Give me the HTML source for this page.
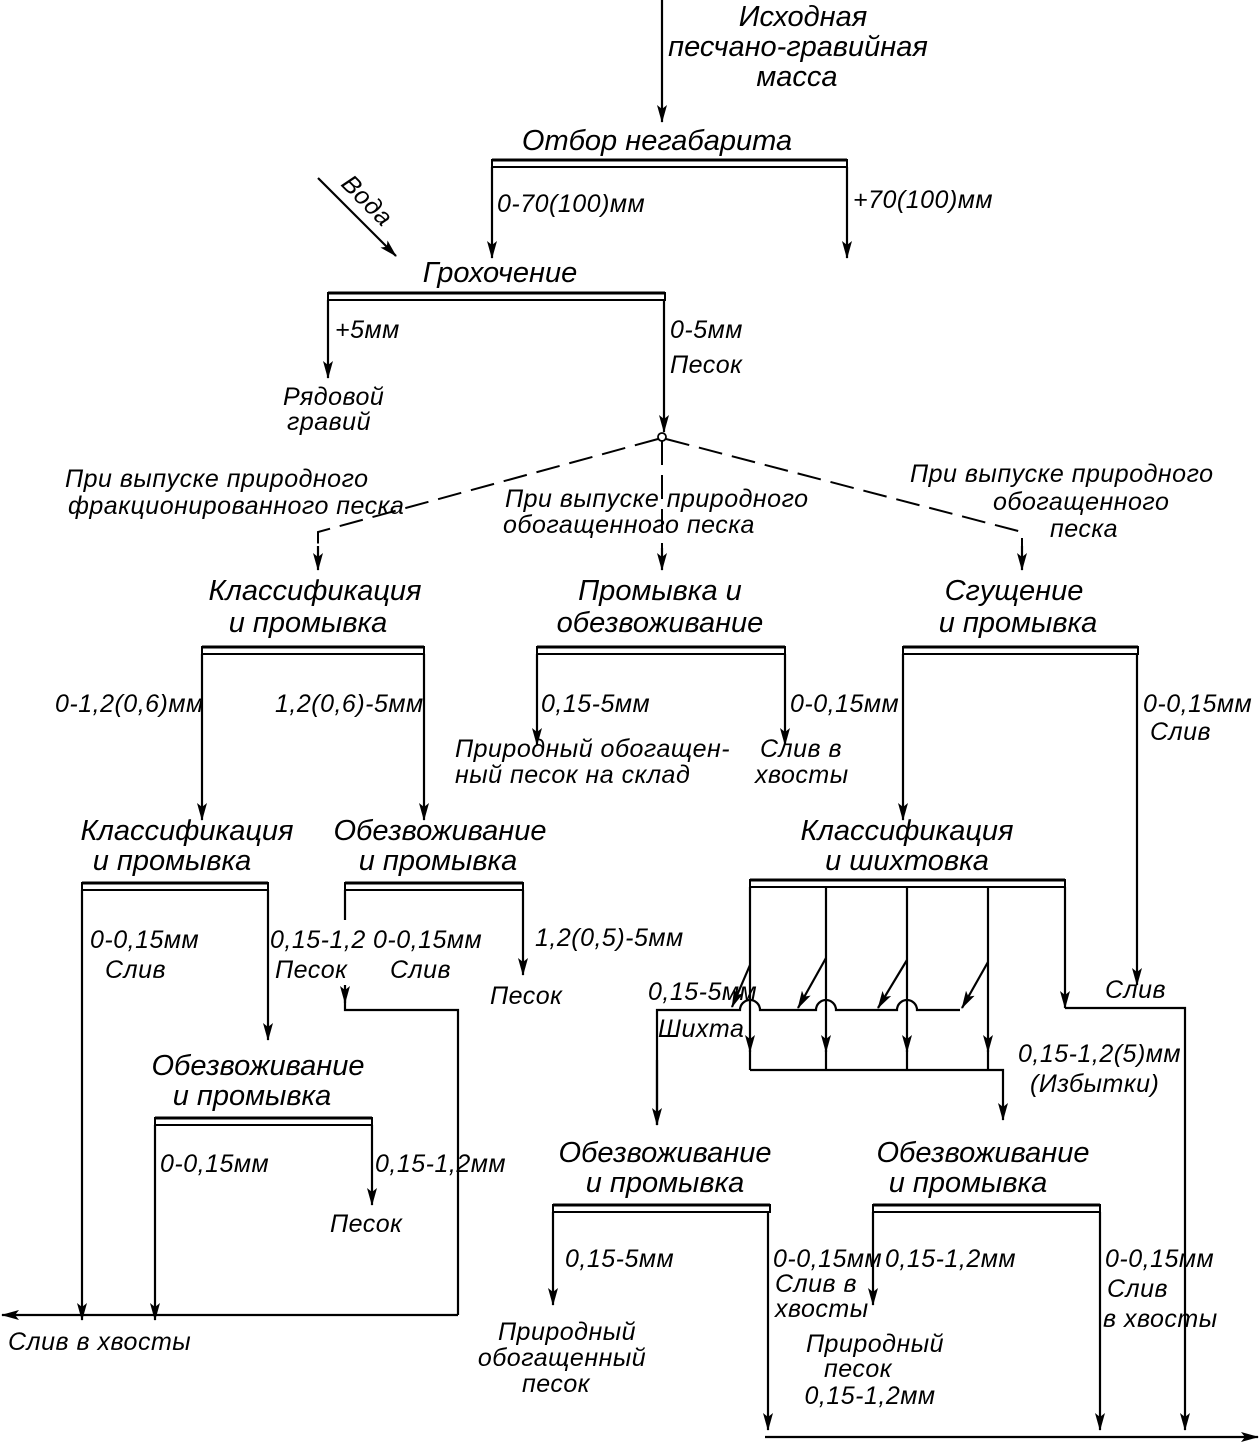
<!DOCTYPE html>
<html><head><meta charset="utf-8"><style>
html,body{margin:0;padding:0;background:#fff}
svg{display:block}
text{font-family:"Liberation Sans","DejaVu Sans",sans-serif;font-style:italic;fill:#000}
.t{font-size:29px}
.l{font-size:25px;letter-spacing:0.5px}
</style></head><body>
<svg width="1259" height="1443" viewBox="0 0 1259 1443" xmlns="http://www.w3.org/2000/svg">
<defs>
<marker id="a" markerUnits="userSpaceOnUse" markerWidth="18" markerHeight="10" refX="17" refY="5" orient="auto" viewBox="0 0 18 10">
<path d="M0,0 L18,5 L0,10 L4,5 Z" fill="#000"/>
</marker>
<marker id="h" markerUnits="userSpaceOnUse" markerWidth="18" markerHeight="10" refX="17" refY="5" orient="auto" viewBox="0 0 18 10">
<path d="M0,0 L18,5 L0,10 L4,5 Z" fill="#000"/>
</marker>
</defs>
<g stroke="#000" stroke-width="2.2" fill="none">
<line x1="662" y1="0" x2="662" y2="122" marker-end="url(#a)"/>
<line x1="318" y1="178" x2="396" y2="256" marker-end="url(#h)"/>
<rect x="492" y="160" width="355" height="7" stroke-width="2"/><line x1="492" y1="160" x2="847" y2="160" stroke-width="3"/>
<line x1="492" y1="167" x2="492" y2="258" marker-end="url(#a)"/>
<line x1="847" y1="167" x2="847" y2="258" marker-end="url(#a)"/>
<rect x="328" y="293" width="337" height="7" stroke-width="2"/><line x1="328" y1="293" x2="665" y2="293" stroke-width="3"/>
<line x1="328" y1="300" x2="328" y2="378" marker-end="url(#a)"/>
<line x1="664" y1="300" x2="664" y2="432" marker-end="url(#a)"/>
<circle cx="662" cy="437" r="4" fill="#fff" stroke-width="1.8"/>
<g stroke-dasharray="24,10" stroke-width="2">
<polyline points="658,439 318,532 318,548"/>
<line x1="662" y1="441" x2="662" y2="550"/>
<polyline points="666,439 1022,532 1022,548"/>
</g>
<line x1="318" y1="546" x2="318" y2="570" marker-end="url(#a)"/>
<line x1="662" y1="548" x2="662" y2="570" marker-end="url(#a)"/>
<line x1="1022" y1="546" x2="1022" y2="570" marker-end="url(#a)"/>
<rect x="202" y="647" width="222" height="7" stroke-width="2"/><line x1="202" y1="647" x2="424" y2="647" stroke-width="3"/>
<line x1="202" y1="654" x2="202" y2="820" marker-end="url(#a)"/>
<line x1="424" y1="654" x2="424" y2="820" marker-end="url(#a)"/>
<rect x="537" y="647" width="248" height="7" stroke-width="2"/><line x1="537" y1="647" x2="785" y2="647" stroke-width="3"/>
<line x1="537" y1="654" x2="537" y2="745" marker-end="url(#a)"/>
<line x1="785" y1="654" x2="785" y2="745" marker-end="url(#a)"/>
<rect x="903" y="647" width="235" height="7" stroke-width="2"/><line x1="903" y1="647" x2="1138" y2="647" stroke-width="3"/>
<line x1="903" y1="654" x2="903" y2="820" marker-end="url(#a)"/>
<line x1="1137" y1="654" x2="1137" y2="985" marker-end="url(#a)"/>
<rect x="82" y="883" width="186" height="7" stroke-width="2"/><line x1="82" y1="883" x2="268" y2="883" stroke-width="3"/>
<line x1="82" y1="890" x2="82" y2="1320" marker-end="url(#a)"/>
<line x1="268" y1="890" x2="268" y2="1040" marker-end="url(#a)"/>
<rect x="345" y="883" width="178" height="7" stroke-width="2"/><line x1="345" y1="883" x2="523" y2="883" stroke-width="3"/>
<line x1="345" y1="890" x2="345" y2="920"/>
<line x1="345" y1="985" x2="345" y2="1003" marker-end="url(#a)"/>
<polyline points="345,1000 345,1010 458,1010 458,1315"/>
<line x1="523" y1="890" x2="523" y2="975" marker-end="url(#a)"/>
<line x1="458" y1="1315" x2="2" y2="1315" marker-end="url(#h)"/>
<rect x="155" y="1118" width="217" height="7" stroke-width="2"/><line x1="155" y1="1118" x2="372" y2="1118" stroke-width="3"/>
<line x1="155" y1="1125" x2="155" y2="1320" marker-end="url(#a)"/>
<line x1="372" y1="1125" x2="372" y2="1205" marker-end="url(#a)"/>
<rect x="750" y="880" width="315" height="7" stroke-width="2"/><line x1="750" y1="880" x2="1065" y2="880" stroke-width="3"/>
<line x1="750" y1="887" x2="750" y2="1052" marker-end="url(#a)"/>
<line x1="826" y1="887" x2="826" y2="1052" marker-end="url(#a)"/>
<line x1="907" y1="887" x2="907" y2="1052" marker-end="url(#a)"/>
<line x1="988" y1="887" x2="988" y2="1052" marker-end="url(#a)"/>
<polyline points="750,1070 1003,1070 1003,1120" marker-end="url(#a)"/>
<line x1="750" y1="1050" x2="750" y2="1070"/>
<line x1="826" y1="1050" x2="826" y2="1070"/>
<line x1="907" y1="1050" x2="907" y2="1070"/>
<line x1="988" y1="1050" x2="988" y2="1070"/>
<line x1="1065" y1="887" x2="1065" y2="1008" marker-end="url(#a)"/>
<polyline points="1065,1008 1185,1008 1185,1430" marker-end="url(#a)"/>
<path d="M657,1125 L657,1010 L740,1010 A10,10 0 0 1 760,1010 L816,1010 A10,10 0 0 1 836,1010 L897,1010 A10,10 0 0 1 917,1010 L960,1010"/>
<line x1="657" y1="1060" x2="657" y2="1125" marker-end="url(#a)"/>
<line x1="750" y1="965" x2="732" y2="1007" marker-end="url(#h)"/>
<line x1="826" y1="958" x2="798" y2="1008" marker-end="url(#h)"/>
<line x1="907" y1="960" x2="878" y2="1008" marker-end="url(#h)"/>
<line x1="988" y1="962" x2="962" y2="1008" marker-end="url(#h)"/>
<rect x="553" y="1205" width="217" height="7" stroke-width="2"/><line x1="553" y1="1205" x2="770" y2="1205" stroke-width="3"/>
<line x1="553" y1="1212" x2="553" y2="1305" marker-end="url(#a)"/>
<line x1="768" y1="1212" x2="768" y2="1430" marker-end="url(#a)"/>
<rect x="873" y="1205" width="227" height="7" stroke-width="2"/><line x1="873" y1="1205" x2="1100" y2="1205" stroke-width="3"/>
<line x1="873" y1="1212" x2="873" y2="1305" marker-end="url(#a)"/>
<line x1="1100" y1="1212" x2="1100" y2="1430" marker-end="url(#a)"/>
<line x1="765" y1="1437" x2="1258" y2="1437" marker-end="url(#h)"/>
</g>

<g class="t" text-anchor="middle">
<text x="803" y="26">Исходная</text>
<text x="798" y="56">песчано-гравийная</text>
<text x="797" y="86">масса</text>
<text x="657" y="150">Отбор негабарита</text>
<text x="500" y="282">Грохочение</text>
<text x="315" y="600">Классификация</text>
<text x="308" y="632">и промывка</text>
<text x="660" y="600">Промывка и</text>
<text x="660" y="632">обезвоживание</text>
<text x="1014" y="600">Сгущение</text>
<text x="1018" y="632">и промывка</text>
<text x="187" y="840">Классификация</text>
<text x="172" y="870">и промывка</text>
<text x="440" y="840">Обезвоживание</text>
<text x="438" y="870">и промывка</text>
<text x="907" y="840">Классификация</text>
<text x="907" y="870">и шихтовка</text>
<text x="258" y="1075">Обезвоживание</text>
<text x="252" y="1105">и промывка</text>
<text x="665" y="1162">Обезвоживание</text>
<text x="665" y="1192">и промывка</text>
<text x="983" y="1162">Обезвоживание</text>
<text x="968" y="1192">и промывка</text>
</g>
<text class="l" x="340" y="185" transform="rotate(45 340 185)">Вода</text>
<g class="l">
<text x="497" y="212">0-70(100)мм</text>
<text x="853" y="208">+70(100)мм</text>
<text x="335" y="338">+5мм</text>
<text x="670" y="338">0-5мм</text>
<text x="670" y="373">Песок</text>
<text x="283" y="405">Рядовой</text>
<text x="287" y="430">гравий</text>
<text x="65" y="487">При выпуске природного</text>
<text x="68" y="514">фракционированного песка</text>
<text x="505" y="507">При выпуске природного</text>
<text x="503" y="533">обогащенного песка</text>
<text x="910" y="482">При выпуске природного</text>
<text x="993" y="510">обогащенного</text>
<text x="1050" y="537">песка</text>
<text x="55" y="712">0-1,2(0,6)мм</text>
<text x="275" y="712">1,2(0,6)-5мм</text>
<text x="541" y="712">0,15-5мм</text>
<text x="790" y="712">0-0,15мм</text>
<text x="455" y="757">Природный обогащен-</text>
<text x="455" y="783">ный песок на склад</text>
<text x="760" y="757">Слив в</text>
<text x="755" y="783">хвосты</text>
<text x="1143" y="712">0-0,15мм</text>
<text x="1150" y="740">Слив</text>
<text x="90" y="948">0-0,15мм</text>
<text x="105" y="978">Слив</text>
<text x="270" y="948">0,15-1,2</text>
<text x="275" y="978">Песок</text>
<text x="373" y="948">0-0,15мм</text>
<text x="390" y="978">Слив</text>
<text x="535" y="946">1,2(0,5)-5мм</text>
<text x="490" y="1004">Песок</text>
<text x="648" y="1000">0,15-5мм</text>
<text x="658" y="1037">Шихта</text>
<text x="1105" y="998">Слив</text>
<text x="1018" y="1062">0,15-1,2(5)мм</text>
<text x="1030" y="1092">(Избытки)</text>
<text x="160" y="1172">0-0,15мм</text>
<text x="375" y="1172">0,15-1,2мм</text>
<text x="330" y="1232">Песок</text>
<text x="8" y="1350">Слив в хвосты</text>
<text x="565" y="1267">0,15-5мм</text>
<text x="773" y="1267">0-0,15мм</text>
<text x="775" y="1292">Слив в</text>
<text x="775" y="1317">хвосты</text>
<text x="885" y="1267">0,15-1,2мм</text>
<text x="1105" y="1267">0-0,15мм</text>
<text x="1107" y="1297">Слив</text>
<text x="1103" y="1327">в хвосты</text>
</g>
<g class="l" text-anchor="middle">
<text x="567" y="1340">Природный</text>
<text x="562" y="1366">обогащенный</text>
<text x="556" y="1392">песок</text>
<text x="875" y="1352">Природный</text>
<text x="858" y="1377">песок</text>
<text x="870" y="1404">0,15-1,2мм</text>
</g>
</svg>
</body></html>
